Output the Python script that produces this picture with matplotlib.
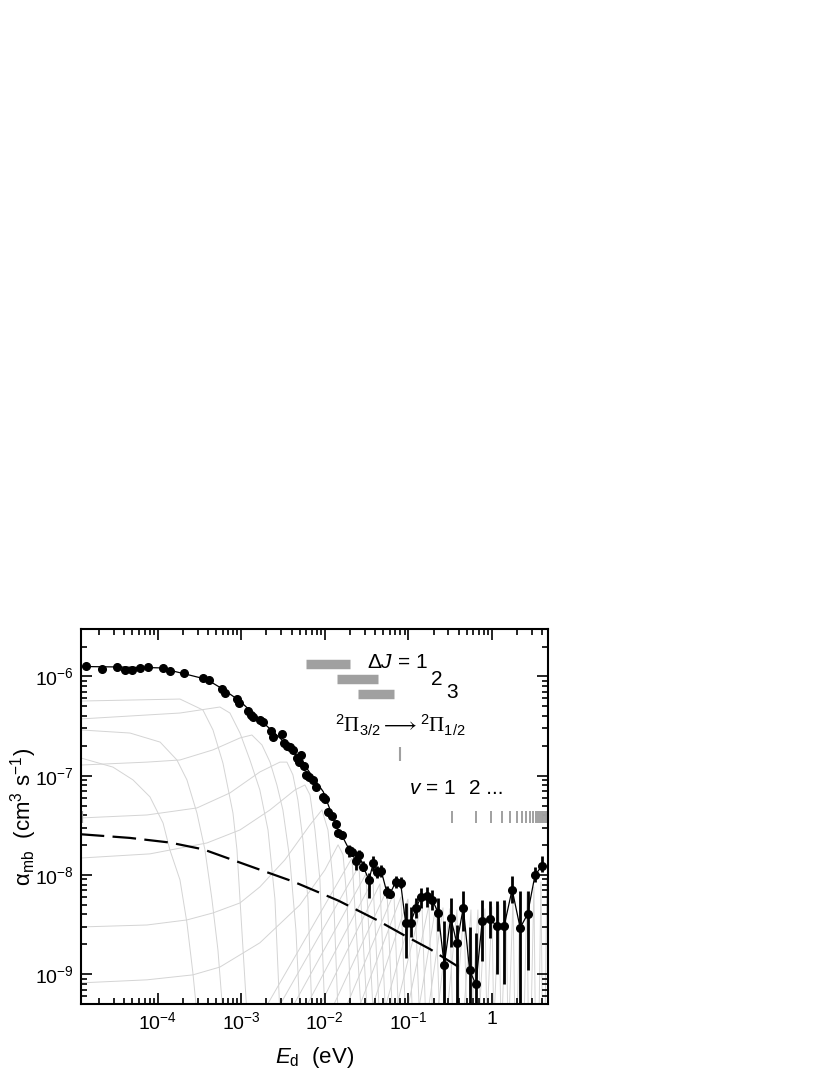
import matplotlib
matplotlib.use('Agg')
import matplotlib.pyplot as plt
from matplotlib.ticker import FixedLocator, FixedFormatter, NullFormatter

plt.rcParams['font.family'] = ['Liberation Sans', 'DejaVu Sans']
plt.rcParams['mathtext.fontset'] = 'custom'
plt.rcParams['mathtext.rm'] = 'Liberation Sans'
plt.rcParams['mathtext.it'] = 'Liberation Sans:italic'
plt.rcParams['mathtext.bf'] = 'Liberation Sans:bold'
plt.rcParams['mathtext.sf'] = 'Liberation Serif'
plt.rcParams['lines.scale_dashes'] = False

# ---------------- data ----------------
E_data = [1.39e-5, 2.14e-5, 3.29e-5, 4.06e-5, 4.97e-5, 6.14e-5, 7.59e-5, 1.15e-4, 1.39e-4, 2.07e-4,
          3.51e-4, 4.14e-4, 5.83e-4, 6.38e-4, 8.81e-4, 9.47e-4, 1.21e-3, 1.30e-3, 1.37e-3, 1.67e-3,
          1.83e-3, 2.26e-3, 2.41e-3, 3.04e-3, 3.27e-3, 3.55e-3, 3.82e-3, 4.12e-3, 4.68e-3, 4.94e-3,
          5.18e-3, 5.62e-3, 5.94e-3, 6.51e-3, 7.14e-3, 7.83e-3, 9.41e-3, 1.00e-2, 1.10e-2, 1.21e-2,
          1.35e-2, 1.45e-2, 1.59e-2, 1.96e-2, 2.09e-2, 2.33e-2, 2.58e-2, 2.88e-2, 3.37e-2, 3.79e-2,
          4.24e-2, 4.73e-2, 5.49e-2, 6.01e-2, 7.08e-2, 8.06e-2, 9.27e-2, 0.106, 0.123, 0.141,
          0.165, 0.193, 0.227, 0.268, 0.320, 0.380, 0.453, 0.540, 0.641, 0.763,
          0.936, 1.14, 1.40, 1.74, 2.17, 2.66, 3.26, 3.95]
alpha_data = [1.26e-6, 1.20e-6, 1.24e-6, 1.16e-6, 1.16e-6, 1.22e-6, 1.25e-6, 1.22e-6, 1.14e-6, 1.08e-6,
              9.57e-7, 9.2e-7, 7.41e-7, 6.86e-7, 5.88e-7, 5.43e-7, 4.51e-7, 4.09e-7, 3.93e-7, 3.64e-7,
              3.50e-7, 2.84e-7, 2.44e-7, 2.63e-7, 2.15e-7, 1.99e-7, 1.93e-7, 1.82e-7, 1.50e-7, 1.38e-7,
              1.62e-7, 1.25e-7, 1.02e-7, 9.64e-8, 9.06e-8, 7.75e-8, 6.06e-8, 5.78e-8, 4.34e-8, 3.92e-8,
              3.26e-8, 2.63e-8, 2.53e-8, 1.79e-8, 1.72e-8, 1.38e-8, 1.59e-8, 1.21e-8, 8.91e-9, 1.31e-8,
              1.08e-8, 1.10e-8, 6.79e-9, 6.44e-9, 8.57e-9, 8.36e-9, 3.27e-9, 3.31e-9, 4.61e-9, 5.96e-9,
              6.14e-9, 5.6e-9, 4.17e-9, 1.24e-9, 3.71e-9, 2.05e-9, 4.67e-9, 1.09e-9, 7.9e-10, 3.42e-9,
              3.58e-9, 3.08e-9, 3.08e-9, 7.13e-9, 2.93e-9, 4.02e-9, 9.87e-9, 1.24e-8]
# error-bar limits for the points from index 43 on (earlier ones are smaller than the markers)
err_first = 43
err_hi = [2.01e-8, 1.9e-8, 1.57e-8, 1.79e-8, 1.38e-8, 1.05e-8, 1.55e-8, 1.22e-8, 1.26e-8, 7.8e-9,
          7.2e-9, 9.8e-9, 9.5e-9, 5.16e-9, 4.7e-9, 5.8e-9, 7.35e-9, 7.6e-9, 7.0e-9, 5.8e-9,
          3.4e-9, 5.8e-9, 3.1e-9, 6.9e-9, 3.0e-9, 2.6e-9, 5.6e-9, 5.5e-9, 5.4e-9, 5.6e-9,
          9.8e-9, 6.9e-9, 6.9e-9, 1.19e-8, 1.55e-8]
err_lo = [1.52e-8, 1.55e-8, 1.12e-8, 1.38e-8, 1.09e-8, 5.9e-9, 1.09e-8, 9.3e-9, 9.6e-9, 5.8e-9,
          5.8e-9, 7.3e-9, 7.3e-9, 1.44e-9, 2.35e-9, 3.66e-9, 4.63e-9, 4.8e-9, 4.4e-9, 2.7e-9,
          1e-10, 1.9e-9, 1e-10, 2.7e-9, 1e-10, 1e-10, 1.37e-9, 2.3e-9, 1.0e-9, 8.0e-10,
          5.16e-9, 1e-10, 1.09e-9, 8.57e-9, 1.07e-8]

# smooth fit through the low-energy part
fit_E = [1.2e-5, 3.54e-5, 1.07e-4, 2.43e-4, 3.85e-4, 6.09e-4, 9.64e-4, 1.53e-3, 2.41e-3,
         3.82e-3, 6.06e-3, 9.57e-3, 1.38e-2]
fit_alpha = [1.26e-6, 1.245e-6, 1.22e-6, 1.03e-6, 9.35e-7, 7.41e-7, 5.65e-7, 3.93e-7, 2.77e-7,
             1.93e-7, 1.19e-7, 6.9e-8, 3.06e-8]

# dashed model curve
dash_E = [1.2e-5, 4.67e-5, 1.40e-4, 3.51e-4, 1.16e-3, 4.19e-3, 1.45e-2, 4.17e-2, 9.51e-2, 0.181, 0.394]
dash_alpha = [2.57e-8, 2.36e-8, 2.12e-8, 1.81e-8, 1.26e-8, 8.57e-9, 5.51e-9, 3.52e-9, 2.39e-9,
              1.79e-9, 1.19e-9]

# light grey partial-rate curves (plateau at low energy)
bg_E = [
    [1.2e-5, 1.85e-4, 3.48e-4, 4.59e-4, 6.04e-4, 7.96e-4, 8.89e-4, 1.17e-3],
    [1.2e-5, 1.85e-4, 5.56e-4, 7.32e-4, 9.66e-4, 1.27e-3, 1.67e-3, 2.09e-3, 2.53e-3, 2.90e-3],
    [1.2e-5, 4.67e-5, 1.07e-4, 1.70e-4, 2.24e-4, 2.95e-4, 3.68e-4, 4.46e-4, 5.26e-4, 6.04e-4],
    [1.2e-5, 2.92e-5, 5.07e-5, 8.09e-5, 1.16e-4, 1.40e-4, 1.85e-4, 2.24e-4, 2.64e-4, 2.95e-4],
    [1.2e-5, 7.45e-5, 1.85e-4, 4.59e-4, 9.66e-4, 1.34e-3, 1.77e-3, 2.21e-3, 2.67e-3, 3.15e-3,
     3.82e-3, 4.51e-3, 5.04e-3],
    [1.2e-5, 7.45e-5, 2.95e-4, 7.32e-4, 1.67e-3, 2.90e-3, 3.52e-3, 4.15e-3, 4.76e-3, 5.47e-3,
     6.28e-3, 7.01e-3],
    [1.2e-5, 8.09e-5, 3.89e-4, 9.66e-4, 2.21e-3, 4.38e-3, 5.78e-3, 6.64e-3, 7.62e-3, 8.74e-3, 1.00e-2],
    [1.2e-5, 7.45e-5, 2.24e-4, 4.59e-4, 9.66e-4, 1.67e-3, 3.33e-3, 6.64e-3, 9.23e-3, 1.09e-2,
     1.25e-2, 1.44e-2],
    [1.2e-5, 7.45e-5, 2.64e-4, 5.56e-4, 1.67e-3, 5.04e-3, 1.00e-2, 1.44e-2, 1.65e-2, 1.84e-2, 2.05e-2],
]
bg_alpha = [
    [5.65e-7, 5.92e-7, 4.59e-7, 2.89e-7, 1.34e-7, 4.21e-8, 1.79e-8, 4e-10],
    [3.73e-7, 4.28e-7, 4.92e-7, 4.28e-7, 2.69e-7, 1.44e-7, 7.18e-8, 2.84e-8, 5.70e-9, 4e-10],
    [2.89e-7, 2.69e-7, 2.18e-7, 1.44e-7, 9.07e-8, 4.21e-8, 1.79e-8, 5.70e-9, 1.76e-9, 4e-10],
    [1.51e-7, 1.22e-7, 9.07e-8, 6.12e-8, 3.34e-8, 1.79e-8, 8.91e-9, 3.29e-9, 1.03e-9, 4e-10],
    [1.28e-7, 1.37e-7, 1.44e-7, 1.82e-7, 2.40e-7, 2.57e-7, 2.04e-7, 1.37e-7, 8.06e-8, 4.52e-8,
     1.42e-8, 2.79e-9, 4e-10],
    [3.75e-8, 4.02e-8, 4.73e-8, 6.70e-8, 1.09e-7, 1.37e-7, 1.37e-7, 1.02e-7, 5.69e-8, 2.25e-8,
     5.70e-9, 4e-10],
    [1.48e-8, 1.63e-8, 2.10e-8, 2.84e-8, 4.52e-8, 7.18e-8, 8.06e-8, 6.40e-8, 2.84e-8, 8.91e-9, 4e-10],
    [2.99e-9, 3.13e-9, 3.52e-9, 4.14e-9, 5.22e-9, 7.57e-9, 1.42e-8, 3.19e-8, 4.52e-8, 2.84e-8,
     8.91e-9, 4e-10],
    [8.17e-10, 8.77e-10, 9.84e-10, 1.18e-9, 2.07e-9, 4.99e-9, 1.12e-8, 2.01e-8, 1.60e-8, 5.70e-9, 4e-10],
]

# narrow grey resonance peaks at higher energy
spike_rise_E = [1.46e-3, 2.08e-3, 3.07e-3, 4.51e-3, 6.64e-3, 9.75e-3, 1.44e-2, 2.11e-2, 3.10e-2,
                4.56e-2, 6.35e-2, 8.83e-2, 0.123, 0.162, 0.213, 0.281, 0.360, 0.449, 0.560,
                0.697, 0.869, 1.05, 1.31, 1.59, 1.99, 2.41, 2.92, 3.64, 4.30]
spike_peak_E = [2.11e-2, 2.56e-2, 3.10e-2, 3.76e-2, 4.56e-2, 5.53e-2, 6.71e-2, 8.13e-2, 9.86e-2,
                0.120, 0.145, 0.176, 0.213, 0.259, 0.313, 0.380, 0.461, 0.560, 0.678,
                0.822, 0.997, 1.21, 1.47, 1.78, 2.16, 2.62, 3.17, 3.85, 4.54]
spike_peak_alpha = [1.48e-8, 1.23e-8, 1.02e-8, 8.91e-9, 8.11e-9, 7.06e-9, 6.59e-9, 6.00e-9, 5.70e-9,
                    5.35e-9, 5.22e-9, 4.99e-9, 4.88e-9, 4.66e-9, 4.55e-9, 4.44e-9, 4.44e-9, 4.44e-9,
                    4.44e-9, 4.55e-9, 4.76e-9, 4.99e-9, 5.22e-9, 5.70e-9, 6.15e-9, 6.74e-9, 7.57e-9,
                    8.50e-9, 9.33e-9]
spike_fall_E = [2.78e-2, 3.28e-2, 3.86e-2, 4.56e-2, 5.38e-2, 6.53e-2, 7.69e-2, 9.33e-2, 0.113,
                0.137, 0.162, 0.196, 0.238, 0.281, 0.340, 0.413, 0.501, 0.600, 0.727,
                0.869, 1.05, 1.28, 1.55, 1.88, 2.25, 2.72, 3.30, 4.01, 4.9]

# rotational-excitation bars (Delta J = 1, 2, 3)
dJ_start = [5.96e-3, 1.38e-2, 2.49e-2]
dJ_end = [2.0e-2, 4.28e-2, 6.76e-2]
dJ_level = [1.33e-6, 9.37e-7, 6.6e-7]
dJ_labels = ['1', '2', '3']

# fine-structure threshold
fs_E = 7.94e-2
fs_range = [1.42e-7, 1.96e-7]

# vibrational thresholds
vib_E = [0.329, 0.641, 0.962, 1.30, 1.64, 1.97, 2.26, 2.54, 2.84, 3.11, 3.35, 3.57, 3.74,
         3.92, 4.10, 4.26, 4.41, 4.54, 4.62]
vib_range = [3.32e-8, 4.45e-8]

x_ticks = [1e-4, 1e-3, 1e-2, 1e-1, 1]
x_ticklabels = [r'$10^{-4}$', r'$10^{-3}$', r'$10^{-2}$', r'$10^{-1}$', '1']
y_ticks = [1e-9, 1e-8, 1e-7, 1e-6]
y_ticklabels = [r'$10^{-9}$', r'$10^{-8}$', r'$10^{-7}$', r'$10^{-6}$']
x_limits = [1.2e-5, 4.67]
y_limits = [5.0e-10, 3.0e-6]

# ---------------- figure ----------------
fig = plt.figure(figsize=(8.3, 10.75), dpi=100)
ax = fig.add_axes([0.0972, 0.066, 0.563, 0.3488])
ax.set_xscale('log')
ax.set_yscale('log')
ax.set_xlim(x_limits)
ax.set_ylim(y_limits)

grey_line = '#d4d4d4'
floor = 3e-10
for ce, ca in zip(bg_E, bg_alpha):
    ax.plot(ce, ca, color=grey_line, lw=0.7, zorder=1)
for r, p, a, f in zip(spike_rise_E, spike_peak_E, spike_peak_alpha, spike_fall_E):
    ax.plot([r, p, f], [floor, a, floor], color=grey_line, lw=0.7, zorder=1)

# dashed model
ax.plot(dash_E, dash_alpha, color='black', lw=1.6, dashes=(17, 6), zorder=3)

# black line: smooth fit then joined data
line_E = fit_E + E_data[err_first - 1:]
line_a = fit_alpha + alpha_data[err_first - 1:]
ax.plot(line_E, line_a, color='black', lw=0.9, zorder=4)

# error bars
for e, a, hi, lo in zip(E_data[err_first:], alpha_data[err_first:], err_hi, err_lo):
    ax.plot([e, e], [lo, hi], color='black', lw=2.0, solid_capstyle='butt', zorder=4)

ax.plot(E_data, alpha_data, 'o', color='black', ms=5.5, zorder=5)

# annotations
fs_ann = 15
bar_grey = '#a0a0a0'
ax.hlines(dJ_level, dJ_start, dJ_end, colors=bar_grey, lw=6.8, zorder=2)
ax.text(3.19e-2, 1.37e-6, r'$\Delta J$ = ' + dJ_labels[0], ha='left', va='center', fontsize=fs_ann)
ax.text(0.217, 9.3e-7, dJ_labels[1], ha='center', va='center', fontsize=fs_ann)
ax.text(0.329, 6.9e-7, dJ_labels[2], ha='center', va='center', fontsize=fs_ann)

ax.text(8.0e-2, 3.24e-7, r'$^{2}\mathsf{\Pi}_{3/2} \longrightarrow {}^{2}\mathsf{\Pi}_{1/2}$',
        ha='center', va='center', fontsize=fs_ann)
ax.vlines([fs_E], fs_range[0], fs_range[1], colors=bar_grey, lw=1.5, zorder=2)

ax.vlines(vib_E, vib_range[0], vib_range[1], colors=bar_grey, lw=1.4, zorder=2)
ax.vlines([x_limits[0]], vib_range[0], vib_range[1], colors=bar_grey, lw=3, zorder=2)
ax.text(0.365, 7.51e-8, r'$v$ = 1', ha='right', va='center', fontsize=fs_ann)
ax.text(0.535, 7.51e-8, '2 ...', ha='left', va='center', fontsize=fs_ann)

# axes styling
for s in ax.spines.values():
    s.set_linewidth(1.5)
ax.xaxis.set_major_locator(FixedLocator(x_ticks))
ax.xaxis.set_major_formatter(FixedFormatter(x_ticklabels))
ax.yaxis.set_major_locator(FixedLocator(y_ticks))
ax.yaxis.set_major_formatter(FixedFormatter(y_ticklabels))
ax.xaxis.set_minor_formatter(NullFormatter())
ax.yaxis.set_minor_formatter(NullFormatter())
ax.tick_params(which='both', direction='in', top=True, right=True, width=1.2)
ax.tick_params(which='major', length=8, labelsize=14, pad=5)
ax.tick_params(which='minor', length=4)

ax.set_xlabel(r'$E_{\mathrm{d}}$  (eV)', fontsize=16)
ax.set_ylabel(r'α$_{\mathrm{mb}}$  (cm$^{3}$ s$^{-1}$)', fontsize=16)
ax.xaxis.set_label_coords(0.5, -0.11)
ax.yaxis.set_label_coords(-0.09, 0.5)

fig.savefig('out.png', dpi=100)
